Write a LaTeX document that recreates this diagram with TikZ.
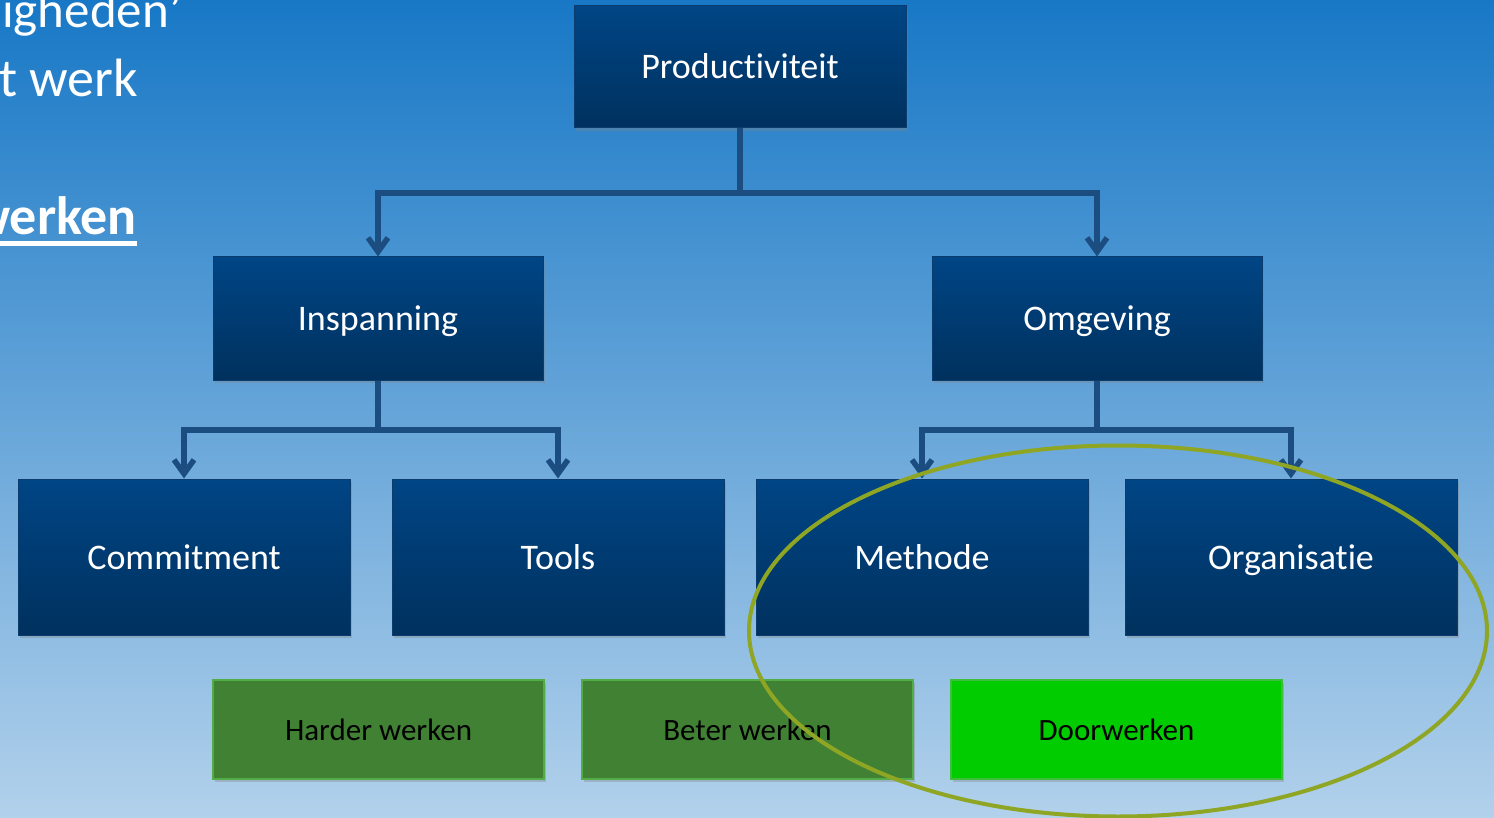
\documentclass[tikz,border=0pt]{standalone}
\usepackage{fontspec}
\setmainfont{Carlito}[Ligatures={NoCommon}]
\usetikzlibrary{arrows.meta,shadows}
\definecolor{bgtop}{HTML}{1878C6}
\definecolor{bgbot}{HTML}{B2D1EB}
\definecolor{boxtop}{HTML}{004585}
\definecolor{boxbot}{HTML}{00315E}
\definecolor{boxline}{HTML}{0A3C6E}
\definecolor{conncol}{HTML}{1B4D80}
\definecolor{darkgreen}{HTML}{418134}
\definecolor{darkgreenline}{HTML}{52AD46}
\definecolor{brightgreen}{HTML}{00CC00}
\definecolor{brightgreenline}{HTML}{3DBE3D}
\definecolor{olive}{HTML}{8EA624}
\tikzset{
  bluebox/.style={rectangle, inner sep=0pt, top color=boxtop, bottom color=boxbot,
    draw=boxline, line width=1pt, text=white,
    font=\fontsize{36}{42}\selectfont, text height=26pt, text depth=2pt,
    drop shadow={opacity=0.35, shadow xshift=2pt, shadow yshift=-3pt}},
  greenbox/.style={rectangle, inner sep=0pt, fill=darkgreen, draw=darkgreenline,
    line width=2pt, text=black, font=\fontsize{31}{36}\selectfont,
    text height=22pt, text depth=1pt,
    minimum width=331pt, minimum height=99pt,
    drop shadow={opacity=0.35, shadow xshift=2pt, shadow yshift=-3pt}},
  conn/.style={draw=conncol, line width=5.5pt},
  arr/.style={conn, -{Straight Barb[length=14pt,width=20pt]}},
  slidetext/.style={anchor=base east, inner sep=0pt, text=white, font=\fontsize{54}{60}\selectfont},
}
\begin{document}
\begin{tikzpicture}[x=1pt,y=-1pt]
\useasboundingbox (0,0) rectangle (1494,818);
\clip (0,0) rectangle (1494,818);
\fill[top color=bgtop, bottom color=bgbot] (0,0) rectangle (1494,818);

% slide text at left (partly cut off)
\node[slidetext, font=\fontsize{51}{60}\selectfont] (l1) at (182,28) {igheden’};
\node[slidetext] (l2) at (138,97) {t werk};
\node[slidetext, font=\fontsize{54}{60}\selectfont\bfseries] (l3) at (137,235) {werken};
\fill[white] (0,241) rectangle (137,246);

% boxes
\node[bluebox, minimum width=332pt, minimum height=122pt] (prod) at (740,67) {Productiviteit};
\node[bluebox, minimum width=330pt, minimum height=123pt] (insp) at (378,318.5) {Inspanning};
\node[bluebox, minimum width=330pt, minimum height=123pt] (omg) at (1097,318.5) {Omgeving};
\node[bluebox, minimum width=332pt, minimum height=156pt] (comm) at (184,557) {Commitment};
\node[bluebox, minimum width=332pt, minimum height=156pt] (tools) at (558,557) {Tools};
\node[bluebox, minimum width=332pt, minimum height=156pt] (meth) at (922,557) {Methode};
\node[bluebox, minimum width=332pt, minimum height=156pt] (org) at (1291,557) {Organisatie};

\node[greenbox] (hard) at (378.5,729.5) {Harder werken};
\node[greenbox] (beter) at (747.5,729.5) {Beter werken};
\node[greenbox, fill=brightgreen, draw=brightgreenline] (door) at (1116.5,729.5) {Doorwerken};

% connectors
\coordinate (j1) at (740,193);
\coordinate (j2) at (378,430);
\coordinate (j3) at (1097,430);
\draw[conn] (prod.south) -- (j1);
\draw[arr] (j1) -| (insp.north);
\draw[arr] (j1) -| (omg.north);
\draw[conn] (insp.south) -- (j2);
\draw[arr] (j2) -| (comm.north);
\draw[arr] (j2) -| (tools.north);
\draw[conn] (omg.south) -- (j3);
\draw[arr] (j3) -| (meth.north);
\draw[arr] (j3) -| (org.north);

% highlight ellipse
\draw[olive, line width=4pt] (1118,631) ellipse [x radius=369, y radius=185.5];
\end{tikzpicture}
\end{document}
